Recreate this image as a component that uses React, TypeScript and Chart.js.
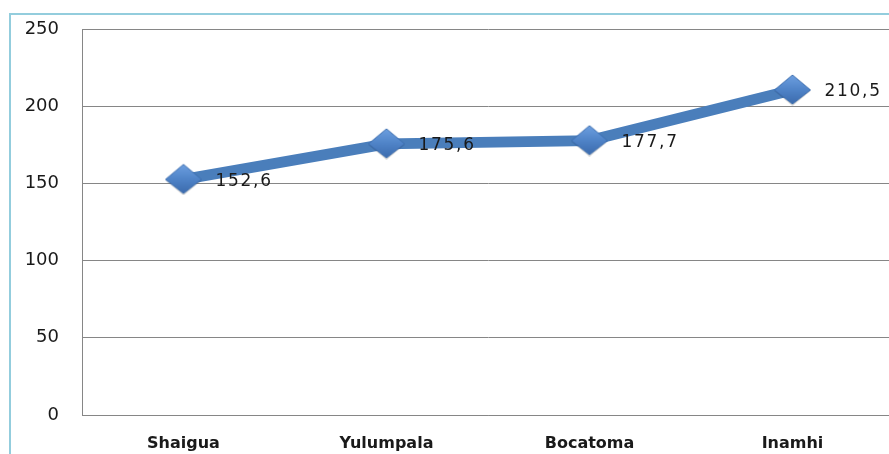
import React, { useEffect, useRef } from "react";
import { Chart, registerables } from "chart.js";

Chart.register(...registerables);

const categories = ["Shaigua", "Yulumpala", "Bocatoma", "Inamhi"];
const values = [152.6, 175.6, 177.7, 210.5];
const valueLabels = ["152,6", "175,6", "177,7", "210,5"];
const yTicks = [0, 50, 100, 150, 200, 250];

function makeDiamond(): HTMLCanvasElement {
  const w = 38, h = 32;
  const c = document.createElement("canvas");
  c.width = w; c.height = h;
  const ctx = c.getContext("2d")!;
  // soft shadow
  ctx.beginPath();
  ctx.moveTo(w / 2, 3);
  ctx.lineTo(w - 1, h / 2 + 1);
  ctx.lineTo(w / 2, h);
  ctx.lineTo(1, h / 2 + 1);
  ctx.closePath();
  ctx.fillStyle = "rgba(0,0,0,0.18)";
  ctx.fill();
  const g = ctx.createLinearGradient(0, 1, 0, h - 1);
  g.addColorStop(0, "#6d9fe0");
  g.addColorStop(0.5, "#4f83c7");
  g.addColorStop(1, "#3a69ab");
  ctx.beginPath();
  ctx.moveTo(w / 2, 1);
  ctx.lineTo(w - 1, h / 2);
  ctx.lineTo(w / 2, h - 2);
  ctx.lineTo(1, h / 2);
  ctx.closePath();
  ctx.fillStyle = g;
  ctx.fill();
  ctx.strokeStyle = "#3d6eaf";
  ctx.lineWidth = 1;
  ctx.stroke();
  return c;
}

const labelPlugin = {
  id: "valueLabels",
  afterDatasetsDraw(chart: any) {
    const ctx = chart.ctx;
    const meta = chart.getDatasetMeta(0);
    ctx.save();
    ctx.font = '17px "DejaVu Sans", sans-serif';
    (ctx as any).letterSpacing = "1.7px";
    ctx.fillStyle = "#1a1a1a";
    ctx.textAlign = "left";
    ctx.textBaseline = "middle";
    meta.data.forEach((pt: any, i: number) => {
      ctx.fillText(valueLabels[i], pt.x + 32, pt.y + 2);
    });
    ctx.restore();
  },
};

export default function App() {
  const ref = useRef<HTMLCanvasElement>(null);
  useEffect(() => {
    document.body.style.margin = "0";
    document.body.style.overflow = "hidden";
    const diamond = makeDiamond();
    const chart = new Chart(ref.current!, {
      type: "line",
      data: {
        labels: categories,
        datasets: [
          {
            data: values,
            borderColor: "#4a7ebb",
            borderWidth: 11,
            pointStyle: diamond as any,
            pointRadius: 16,
            tension: 0,
            clip: false as any,
          },
        ],
      },
      options: {
        animation: false,
        responsive: false,
        events: [],
        layout: { autoPadding: false, padding: { top: 29, right: 6, left: 0, bottom: 0 } },
        plugins: { legend: { display: false }, tooltip: { enabled: false } },
        scales: {
          x: {
            offset: true,
            grid: { display: false, drawTicks: false },
            border: { color: "#868686", width: 1 },
            ticks: {
              padding: 19,
              color: "#1a1a1a",
              font: { family: '"DejaVu Sans", sans-serif', size: 16, weight: "bold" },
            },
            afterFit: (s: any) => {
              s.height = 39;
              s.paddingLeft = 0;
              s.paddingRight = 0;
            },
          },
          y: {
            min: 0,
            max: 250,
            afterBuildTicks: (s: any) => { s.ticks = yTicks.map((v) => ({ value: v })); },
            grid: { color: "#868686", lineWidth: 1, drawTicks: false },
            border: { color: "#868686", width: 1 },
            ticks: {
              padding: 23,
              color: "#1a1a1a",
              font: { family: '"DejaVu Sans", sans-serif', size: 18 },
            },
            afterFit: (s: any) => {
              s.width = 82;
              s.paddingTop = 0;
              s.paddingBottom = 0;
            },
          },
        },
      },
      plugins: [labelPlugin],
    });
    return () => chart.destroy();
  }, []);
  return (
    <div style={{ position: "relative", width: 889, height: 454, overflow: "hidden", background: "#fff" }}>
      <canvas ref={ref} width={900} height={454} style={{ position: "absolute", left: 0, top: 0 }} />
      <div
        style={{
          position: "absolute",
          left: 9,
          top: 13,
          width: 960,
          height: 500,
          borderLeft: "2px solid #93cddd",
          borderTop: "2px solid #93cddd",
          pointerEvents: "none",
        }}
      />
    </div>
  );
}
